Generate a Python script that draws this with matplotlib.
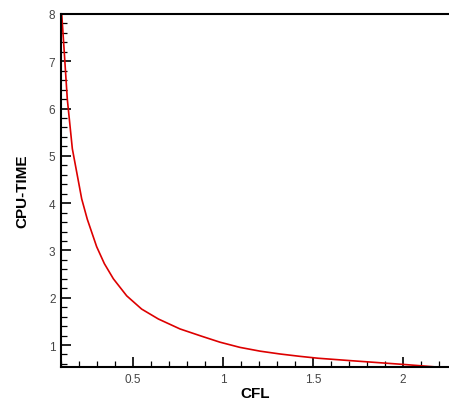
import numpy as np
import matplotlib
matplotlib.use("Agg")
import matplotlib.pyplot as plt
from matplotlib.ticker import MultipleLocator

# ---------- data ----------
cfl = [0.104, 0.117, 0.135, 0.163, 0.215, 0.246, 0.298, 0.341, 0.391,
       0.465, 0.548, 0.641, 0.761, 0.882, 0.983, 1.094, 1.206, 1.317,
       1.428, 1.529, 1.706, 1.89, 2.0, 2.17]
cpu = [8.0, 7.26, 6.20, 5.15, 4.09, 3.66, 3.08, 2.72, 2.40,
       2.04, 1.76, 1.55, 1.34, 1.185, 1.06, 0.95, 0.87, 0.81,
       0.76, 0.72, 0.67, 0.62, 0.59, 0.54]

xticks = [0.5, 1.0, 1.5, 2.0]
xtick_labels = ["0.5", "1", "1.5", "2"]
yticks = [1, 2, 3, 4, 5, 6, 7, 8]
ytick_labels = ["1", "2", "3", "4", "5", "6", "7", "8"]

plt.rcParams["font.family"] = ["Liberation Sans", "DejaVu Sans"]

W, H = 449, 402
fig = plt.figure(figsize=(W / 100, H / 100), dpi=100)
ax = fig.add_axes([61 / W, (H - 368) / H, (W - 61) / W, 353 / H])

ax.plot(cfl, cpu, color="#DD0000", lw=1.2, solid_joinstyle="round")

ax.set_xlim(0.1, 2.2556)
ax.set_ylim(0.535, 8.0)

ax.set_xticks(xticks)
ax.set_xticklabels(xtick_labels)
ax.set_yticks(yticks)
ax.set_yticklabels(ytick_labels)
ax.xaxis.set_minor_locator(MultipleLocator(0.1))
ax.yaxis.set_minor_locator(MultipleLocator(0.2))

ax.tick_params(which="both", direction="in", top=False, right=False,
               colors="black", labelcolor="#444444", labelsize=8.5)
ax.tick_params(axis="x", which="major", length=7.5, width=1.2, pad=4)
ax.tick_params(axis="y", which="major", length=7.5, width=1.2, pad=4)
ax.tick_params(which="minor", length=4.5, width=0.9)

for s in ("left", "bottom", "top"):
    ax.spines[s].set_linewidth(1.5)
ax.spines["right"].set_visible(False)

ax.set_xlabel("CFL", fontsize=11, fontweight="bold", labelpad=1)
ax.set_ylabel("CPU-TIME", fontsize=11, fontweight="bold", labelpad=14)

fig.savefig("out.png", dpi=100, facecolor="white")
